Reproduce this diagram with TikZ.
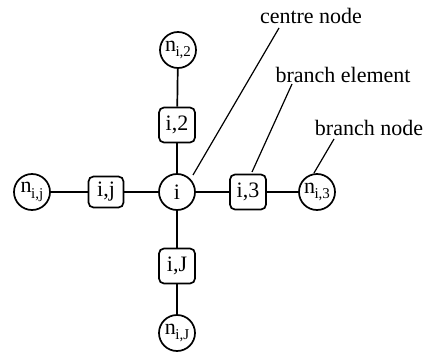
\documentclass[tikz,border=0pt]{standalone}
\usepackage{fontspec}
\setmainfont{Liberation Serif}
\usetikzlibrary{calc}
\newcommand{\nsb}[1]{n\kern-0.5pt\raisebox{-0.55ex}{\fontsize{15}{15}\selectfont #1}}
\begin{document}
\begin{tikzpicture}[x=1pt,y=-1pt,
  every node/.style={font=\fontsize{22}{22}\selectfont},
  cnode/.style={draw,circle,line width=1.7pt,minimum size=36pt,inner sep=0pt},
  bel/.style={draw,rounded corners=5pt,line width=1.7pt,minimum width=36pt,minimum height=35pt,inner sep=0pt},
  conn/.style={line width=1.7pt},
  lead/.style={line width=1.2pt},
  lbl/.style={font=\fontsize{22}{22}\selectfont,inner sep=0pt}]
\useasboundingbox (0,0) rectangle (426,353);
\node[cnode] (i) at (177,192) {i};
\node[bel] (b2) at (177,125) {i,2};
\node[bel,minimum width=35pt,minimum height=31pt] (bj) at (106,192) {i,j};
\node[bel] (b3) at (248,192) {i,3};
\node[bel] (bJ) at (177,266) {i,J};
\node[cnode] (n2) at (178,50) {\nsb{i,2}};
\node[cnode] (nj) at (32,192) {\nsb{i,j}};
\node[cnode] (n3) at (317,192) {\nsb{i,3}};
\node[cnode] (nJ) at (177,333) {\nsb{i,J}};
\draw[conn] (n2) -- (b2);
\draw[conn] (b2) -- (i);
\draw[conn] (i) -- (bJ);
\draw[conn] (bJ) -- (nJ);
\draw[conn] (nj) -- (bj);
\draw[conn] (bj) -- (i);
\draw[conn] (i) -- (b3);
\draw[conn] (b3) -- (n3);
\node[lbl] (lc) at (311,16) {centre node};
\node[lbl] (le) at (343,75) {branch element};
\node[lbl] (ln) at (369,128) {branch node};
\coordinate (lc0) at (279,28);
\coordinate (lc1) at (193,175);
\coordinate (le0) at (292,84);
\coordinate (le1) at (252,172);
\coordinate (ln0) at (334,139);
\coordinate (ln1) at (314,173);
\draw[lead] (lc0) -- (lc1);
\draw[lead] (le0) -- (le1);
\draw[lead] (ln0) -- (ln1);
\end{tikzpicture}
\end{document}
